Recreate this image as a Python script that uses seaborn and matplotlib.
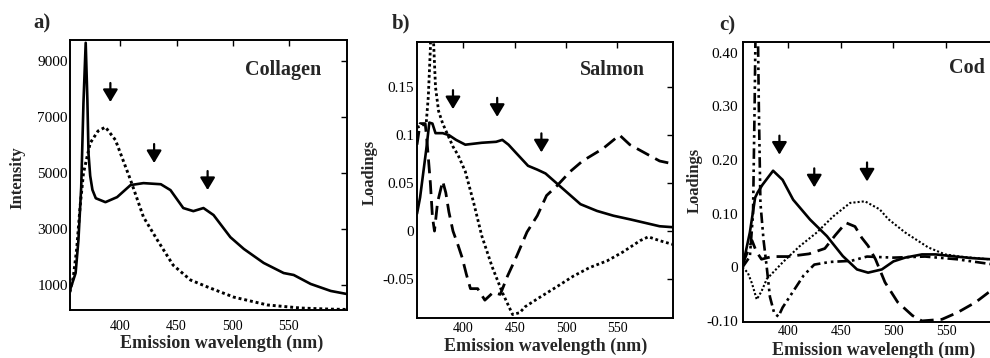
import matplotlib
matplotlib.use("Agg")
import matplotlib.pyplot as plt
import seaborn as sns
import numpy as np

# ---------------- data ----------------
# Panel a: Collagen (intensity)
a_solid_x = [355, 360, 362.5, 365, 367, 369, 370.5, 371.5, 373, 375, 378, 386.6, 397, 409, 420.5, 436,
             444.6, 456, 465, 474, 483, 498, 510, 527.7, 545.5, 554.5, 569.6, 587.5, 602]
a_solid_y = [820, 1430, 2600, 4500, 7500, 9650, 7600, 5700, 4900, 4400, 4100, 3960, 4140, 4570, 4640, 4600,
             4390, 3750, 3640, 3750, 3500, 2710, 2290, 1790, 1430, 1360, 1040, 790, 680]
a_dot_x = [355, 358, 361, 364, 367, 373, 380, 386.6, 395.5, 409, 420.5, 433, 447, 462.5, 477.7, 501, 531, 560.7, 587.5, 602]
a_dot_y = [750, 1300, 2300, 3800, 5000, 6070, 6500, 6640, 6180, 4750, 3430, 2600, 1710, 1180, 930, 570, 290, 180, 140, 130]
a_arrow_x = [391, 430, 477.7]
a_arrow_y = [7536, 5357, 4393]
a_yticks = [1000, 3000, 5000, 7000, 9000]
a_yticklabels = ["1000", "3000", "5000", "7000", "9000"]

# Panel b: Salmon (loadings)
b_solid_x = [355, 358, 361, 364, 367, 370, 373, 380, 386, 393, 402, 418, 432, 438, 444, 450, 463, 472, 480,
             497, 514, 530, 546, 563, 579, 591, 604]
b_solid_y = [0.018, 0.035, 0.06, 0.085, 0.113, 0.112, 0.102, 0.102, 0.1, 0.095, 0.09, 0.092, 0.093, 0.095, 0.09,
             0.083, 0.068, 0.064, 0.06, 0.044, 0.028, 0.021, 0.016, 0.012, 0.008, 0.005, 0.004]
b_dash_x = [355, 358, 363, 365, 368, 370, 372, 375, 380, 383, 386, 390, 395, 399, 403, 407, 414, 421, 429, 436,
            443, 452, 462, 472, 481, 491, 504, 516, 536, 552, 562, 579, 591, 604]
b_dash_y = [0.09, 0.112, 0.112, 0.09, 0.05, 0.015, 0.0, 0.03, 0.052, 0.04, 0.02, 0.0, -0.015, -0.028, -0.045,
            -0.06, -0.06, -0.072, -0.064, -0.066, -0.047, -0.026, -0.001, 0.016, 0.037, 0.047, 0.062, 0.073,
            0.086, 0.1, 0.09, 0.08, 0.073, 0.07]
b_dot_x = [355, 360, 364, 366, 368, 369, 370, 371, 373, 376, 380, 385, 390, 395, 402, 410, 418, 428, 438, 448,
           455, 460, 473, 491, 507, 523, 540, 555, 572, 580, 591, 604]
b_dot_y = [0.108, 0.11, 0.113, 0.14, 0.19, 0.25, 0.25, 0.2, 0.15, 0.125, 0.112, 0.1, 0.088, 0.079, 0.062, 0.03,
           -0.005, -0.037, -0.064, -0.087, -0.085, -0.079, -0.07, -0.058, -0.047, -0.038, -0.031, -0.022, -0.01,
           -0.006, -0.01, -0.014]
b_arrow_x = [390, 433, 476]
b_arrow_y = [0.127, 0.119, 0.082]
b_yticks = [-0.05, 0, 0.05, 0.1, 0.15]
b_yticklabels = ["-0.05", "0", "0.05", "0.1", "0.15"]

# Panel c: Cod (loadings)
c_solid_x = [357, 364, 369, 371.5, 376, 386, 395, 405, 421, 437, 452, 465.5, 476, 489, 500, 511, 527, 540, 559, 575, 592, 600]
c_solid_y = [0.0, 0.065, 0.13, 0.14, 0.154, 0.18, 0.163, 0.126, 0.089, 0.058, 0.021, -0.004, -0.01, -0.004, 0.011,
             0.018, 0.024, 0.024, 0.02, 0.017, 0.015, 0.014]
c_dot_x = [357, 362, 366, 370.5, 375, 380, 395, 411, 427.5, 443, 459, 473, 487, 495, 511, 533, 549, 563, 590, 600]
c_dot_y = [0.0, -0.01, -0.03, -0.06, -0.045, -0.022, 0.009, 0.039, 0.065, 0.095, 0.12, 0.123, 0.108, 0.09, 0.065,
           0.037, 0.024, 0.02, 0.015, 0.013]
c_dash_x = [357, 362, 366, 370, 375, 385, 400, 420, 435, 445, 455, 463.6, 470, 476, 483, 492, 504, 518, 527, 546,
            561, 578, 590, 600]
c_dash_y = [0.005, 0.03, 0.05, 0.03, 0.015, 0.02, 0.02, 0.025, 0.035, 0.06, 0.083, 0.076, 0.055, 0.04, 0.015,
            -0.028, -0.065, -0.09, -0.1, -0.097, -0.084, -0.065, -0.047, -0.035]
c_dd_x = [357, 364, 367, 368.5, 369.5, 371.5, 372.5, 374, 377, 380, 383, 387, 391, 395, 405, 415, 425, 440, 460,
          475, 500, 530, 560, 592, 600]
c_dd_y = [0.0, 0.02, 0.1, 0.3, 0.46, 0.46, 0.3, 0.12, 0.05, 0.0, -0.055, -0.085, -0.092, -0.075, -0.045, -0.015,
          0.005, 0.01, 0.012, 0.02, 0.018, 0.02, 0.015, 0.006, 0.005]
c_arrow_x = [392, 425, 475]
c_arrow_y = [0.21, 0.149, 0.16]
c_yticks = [-0.1, 0, 0.1, 0.2, 0.3, 0.4]
c_yticklabels = ["-0.10", "0", "0.10", "0.20", "0.30", "0.40"]

xticks = [400, 450, 500, 550]
xticklabels = ["400", "450", "500", "550"]

# ---------------- style ----------------
sns.set_style("white")
plt.rcParams["font.family"] = ["Liberation Serif", "DejaVu Serif"]
plt.rcParams["axes.unicode_minus"] = False

W, H = 990, 358
fig = plt.figure(figsize=(W / 100, H / 100), dpi=100)


def pos(l, r, t, b):
    return [l / W, 1 - b / H, (r - l) / W, (b - t) / H]


def fx(x):
    return x / W


def fy(y):
    return 1 - y / H


SOLID = "-"
DOT = (0, (1, 1.0))
DASH = (0, (5, 2.5))
DASHDOT = (0, (4, 1.5, 1, 1.5, 1, 1.5))


def line(ax, x, y, ls, lw=1.8):
    sns.lineplot(x=x, y=y, ax=ax, color="black", linestyle=ls, linewidth=lw,
                 estimator=None, sort=False, legend=False)


def arrows(ax, xs, ys):
    for x, y in zip(xs, ys):
        ax.annotate("", xy=(x, y), xytext=(0, 19), textcoords="offset pixels",
                    arrowprops=dict(arrowstyle="-|>,head_length=0.75,head_width=0.45",
                                    mutation_scale=10, color="black", lw=1.6,
                                    shrinkA=0, shrinkB=0), annotation_clip=False)


def style_axes(ax, xlim, ylim, yticks, yticklabels, xpad, ypad):
    ax.set_xlim(*xlim)
    ax.set_ylim(*ylim)
    ax.set_xticks(xticks)
    ax.set_xticklabels(xticklabels)
    ax.set_yticks(yticks)
    ax.set_yticklabels(yticklabels)
    ax.tick_params(axis="both", direction="in", length=4, width=1, top=True, right=True,
                   colors="black")
    ax.tick_params(axis="x", labelsize=10, pad=xpad)
    ax.tick_params(axis="y", labelsize=11, pad=ypad)
    for s in ax.spines.values():
        s.set_color("black")
        s.set_linewidth(1.4)
    ax.set_xlabel("")
    ax.set_ylabel("")
    ax.grid(False)


# ---- panel a ----
axa = fig.add_axes(pos(70, 347, 40, 310))
line(axa, a_dot_x, a_dot_y, DOT, 2.1)
line(axa, a_solid_x, a_solid_y, SOLID, 1.9)
arrows(axa, a_arrow_x, a_arrow_y)
style_axes(axa, (355, 602), (110, 9750), a_yticks, a_yticklabels, 7, 1.5)
fig.text(fx(283), fy(70), "Collagen", fontsize=14.5, fontweight="bold", ha="center", va="center")

# ---- panel b ----
axb = fig.add_axes(pos(417, 673, 42, 318))
line(axb, b_dot_x, b_dot_y, DOT, 2.0)
line(axb, b_dash_x, b_dash_y, DASH, 2.0)
line(axb, b_solid_x, b_solid_y, SOLID, 1.9)
arrows(axb, b_arrow_x, b_arrow_y)
style_axes(axb, (355, 604), (-0.0906, 0.197), b_yticks, b_yticklabels, 3, 2)
fig.text(fx(612), fy(70), "Salmon", fontsize=14.5, fontweight="bold", ha="center", va="center")

# ---- panel c ----
axc = fig.add_axes(pos(743, 999, 42, 322))
line(axc, c_dot_x, c_dot_y, DOT, 1.5)
line(axc, c_dash_x, c_dash_y, DASH, 2.0)
line(axc, c_dd_x, c_dd_y, DASHDOT, 1.9)
line(axc, c_solid_x, c_solid_y, SOLID, 1.9)
arrows(axc, c_arrow_x, c_arrow_y)
style_axes(axc, (357.5, 600), (-0.102, 0.42), c_yticks, c_yticklabels, 2.5, 3.5)
fig.text(fx(967), fy(68), "Cod", fontsize=14.5, fontweight="bold", ha="center", va="center")

# ---- labels ----
for x, y, t in [(42, 23, "a)"), (401, 23, "b)"), (727, 25, "c)")]:
    fig.text(fx(x), fy(y), t, fontsize=15, fontweight="bold", ha="center", va="center")

for x, y in [(222, 343), (546, 346), (874, 350)]:
    fig.text(fx(x), fy(y), "Emission wavelength (nm)", fontsize=13, fontweight="bold",
             ha="center", va="center")

for x, y, t in [(17, 178, "Intensity"), (370, 172, "Loadings"), (695, 180, "Loadings")]:
    fig.text(fx(x), fy(y), t, fontsize=12, fontweight="bold", rotation=90,
             ha="center", va="center")

fig.savefig("out.png", dpi=100, facecolor="white")
